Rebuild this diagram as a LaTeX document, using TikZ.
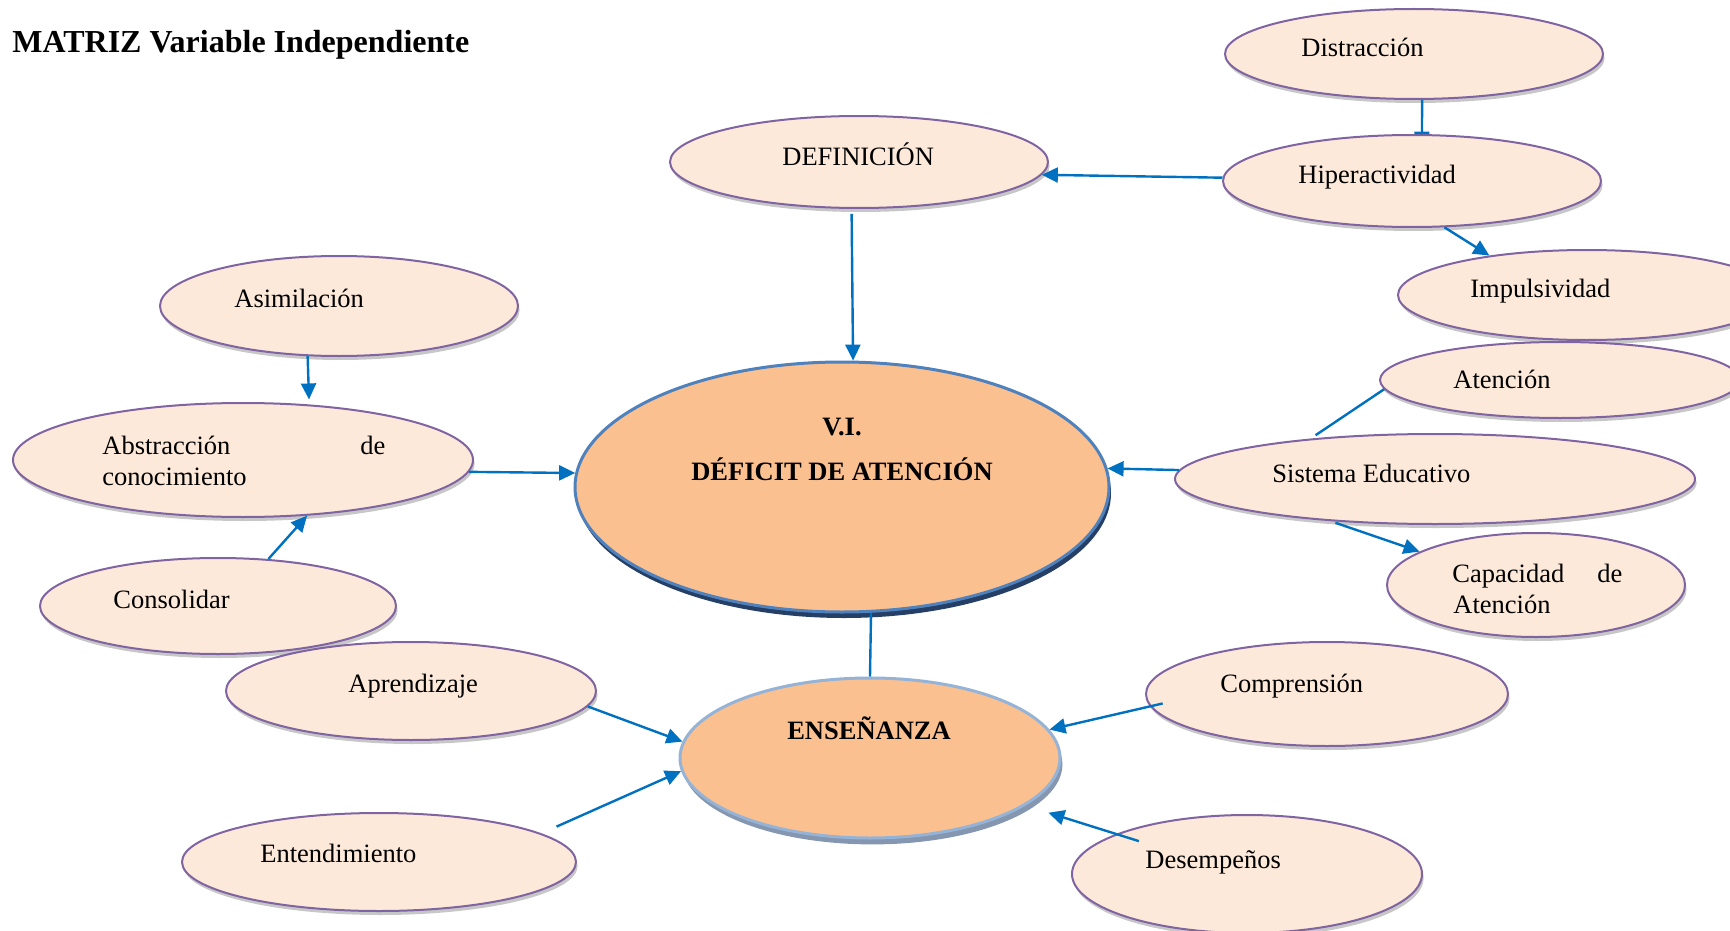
\documentclass[tikz,border=0pt]{standalone}
\usepackage{fontspec}
\setmainfont{Liberation Serif}
\usetikzlibrary{shapes.geometric,arrows.meta,shadows}
\definecolor{pfill}{HTML}{FDE9D9}
\definecolor{pline}{HTML}{8064A2}
\definecolor{ofill}{HTML}{FAC090}
\definecolor{viline}{HTML}{4F81BD}
\definecolor{vishadow}{HTML}{253F66}
\definecolor{enline}{HTML}{95B3D7}
\definecolor{enshadow}{HTML}{8496B0}
\definecolor{ablue}{HTML}{0070C0}
\tikzset{
  bub/.style={ellipse, draw=pline, line width=1pt, fill=pfill, inner sep=0pt,
    drop shadow={shadow xshift=0.8pt, shadow yshift=-2pt, fill=black, opacity=0.22}},
  txt/.style={inner sep=0pt, anchor=base west, font=\fontsize{13.25}{16}\selectfont},
  ctxt/.style={inner sep=0pt, anchor=base, font=\fontsize{13.25}{16}\selectfont\bfseries},
  arr/.style={draw=ablue, line width=1.2pt, -{Triangle[length=8pt,width=7.5pt]}},
  plainline/.style={draw=ablue, line width=1.2pt},
}
\begin{document}
\begin{tikzpicture}[x=0.5pt,y=-0.5pt]
\path[use as bounding box] (0,0) rectangle (1730,931);

% title
\node[inner sep=0pt, anchor=base west, font=\fontsize{16}{19}\selectfont\bfseries] (title) at (12,53) {MATRIZ Variable Independiente};

% ellipses
\node[bub, minimum width=189pt, minimum height=45pt] (dist) at (1414,54) {};
\node[bub, minimum width=189pt, minimum height=46pt] (hiper) at (1412,181) {};
\node[bub, minimum width=189pt, minimum height=46pt] (defin) at (859,162) {};
\node[bub, minimum width=189pt, minimum height=45pt] (impul) at (1587,295) {};
\node[bub, minimum width=180pt, minimum height=38pt] (aten) at (1560,380) {};
\node[bub, minimum width=260pt, minimum height=45pt] (sist) at (1435,479) {};
\node[bub, minimum width=149pt, minimum height=52pt] (capac) at (1536,585) {};
\node[bub, minimum width=181pt, minimum height=52pt] (compr) at (1327,694) {};
\node[bub, minimum width=175pt, minimum height=59pt] (desem) at (1247,874) {};
\node[bub, minimum width=179pt, minimum height=50pt] (asim) at (339,306) {};
\node[bub, minimum width=230pt, minimum height=57pt] (abstr) at (243,460) {};
\node[bub, minimum width=178pt, minimum height=48pt] (consol) at (218,606) {};
\node[bub, minimum width=185pt, minimum height=49pt] (apren) at (411,691) {};
\node[bub, minimum width=197pt, minimum height=49pt] (enten) at (379,862) {};

\node[ellipse, draw=viline, line width=1.5pt, fill=ofill, inner sep=0pt,
  minimum width=267pt, minimum height=125pt,
  drop shadow={shadow xshift=1pt, shadow yshift=-3pt, fill=vishadow, opacity=1}] (VI) at (842,487) {};
\node[ellipse, draw=enline, line width=1.5pt, fill=ofill, inner sep=0pt,
  minimum width=190pt, minimum height=80pt,
  drop shadow={shadow xshift=1.2pt, shadow yshift=-3.2pt, fill=enshadow, opacity=1}] (ens) at (870,758) {};

% texts
\node[txt] (tdist) at (1301,57) {Distracción};
\node[txt] (thiper) at (1298,184) {Hiperactividad};
\node[txt] (timpul) at (1470,297) {Impulsividad};
\node[txt] (taten) at (1453,388) {Atención};
\node[txt] (tsist) at (1272,482) {Sistema Educativo};
\node[txt] (tcapa) at (1452,582) {\makebox[85pt][s]{Capacidad\hfill de}};
\node[txt] (tcapb) at (1453,613) {Atención};
\node[txt] (tcompr) at (1220,692) {Comprensión};
\node[txt] (tdesem) at (1145,868) {Desempeños};
\node[txt] (tenten) at (260,862) {Entendimiento};
\node[txt] (tapren) at (348,692) {Aprendizaje};
\node[txt] (tconsol) at (113,608) {Consolidar};
\node[txt] (tabsa) at (102,454) {\makebox[141.5pt][s]{Abstracción\hfill de}};
\node[txt] (tabsb) at (102,485) {conocimiento};
\node[txt] (tasim) at (234,307) {Asimilación};
\node[txt] (tdefin) at (782,165) {DEFINICIÓN};
\node[ctxt] (tvi) at (842,435) {V.I.};
\node[ctxt] (tdef) at (842,480) {DÉFICIT DE ATENCIÓN};
\node[ctxt] (tens) at (869,739) {ENSEÑANZA};

% connectors
\draw[arr] (hiper.179) -- (defin.-4);
\draw[plainline, -{Bar[width=7.5pt]}] (dist.-80) -- (hiper.78);
\draw[arr] (hiper.-55) -- (impul.158);
\draw[arr, shorten <=2.5pt] (defin.-99) -- (VI.85);
\draw[arr, shorten >=2.5pt] (asim.-122) -- (abstr.40);
\draw[arr] (abstr.-3) -- (VI.177);
\draw[arr] (consol.43) -- (abstr.-41);
\draw[arr] (sist.178) -- (VI.4);
\draw[plainline, shorten <=3pt] (sist.162) -- (aten.183);
\draw[arr, shorten <=2.5pt] (sist.-158) -- (capac.164);
\draw[plainline] (VI.-77) -- (ens.north);
\draw[arr] (apren.-5) -- (ens.175);
\draw[arr, shorten <=8.3pt] (enten.10) -- (ens.184);
\draw[arr, shorten <=-6.5pt] (compr.184) -- (ens.9);
\draw[arr, shorten <=-12pt, shorten >=12pt] (desem.163) -- (ens.-17);
\end{tikzpicture}
\end{document}
